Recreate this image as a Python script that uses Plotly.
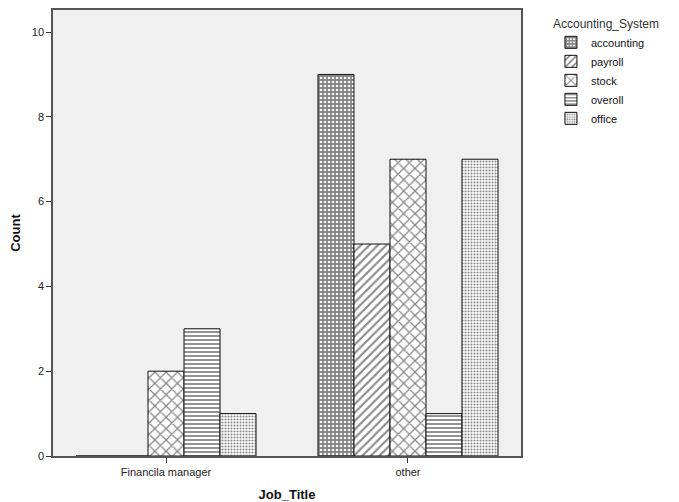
import plotly.graph_objects as go

categories = ["Financila manager", "other"]
series_names = ["accounting", "payroll", "stock", "overoll", "office"]
accounting = [0, 9]
payroll = [0, 5]
stock = [2, 7]
overoll = [3, 1]
office = [1, 7]
values = [accounting, payroll, stock, overoll, office]
y_ticks = [0, 2, 4, 6, 8, 10]

patterns = [
    dict(shape="+", size=4, solidity=0.7),
    dict(shape="/", size=6, solidity=0.35),
    dict(shape="x", size=8, solidity=0.3),
    dict(shape="-", size=4, solidity=0.45),
    dict(shape=".", size=3, solidity=0.4),
]

fig = go.Figure()
for name, vals, pat in zip(series_names, values, patterns):
    fig.add_trace(go.Bar(
        x=categories, y=vals, name=name,
        marker=dict(color="white",
                    line=dict(color="#111111", width=1),
                    pattern=dict(fgcolor="#111111", bgcolor="white", **pat)),
    ))

font_family = "Liberation Sans, Arial, sans-serif"
# page body has an 8px margin, so the figure is sized to the visible area
fig.update_layout(
    width=671, height=494,
    margin=dict(l=45, r=158, t=2, b=46, autoexpand=False),
    paper_bgcolor="white",
    plot_bgcolor="#f0f0f0",
    barmode="group",
    bargap=0.256,
    bargroupgap=0,
    font=dict(family=font_family, size=11, color="#222222"),
    showlegend=True,
    legend=dict(
        x=1.064, xanchor="left", y=0.995, yanchor="top",
        title=dict(text="Accounting_System", font=dict(size=12, color="#333333")),
        font=dict(size=11, color="#111111"),
        tracegroupgap=0, itemwidth=30,
        bgcolor="rgba(0,0,0,0)",
    ),
    xaxis=dict(
        range=[-0.467, 1.467], automargin=False,
        title=dict(text="<b>Job_Title</b>", font=dict(size=13, color="#111111"), standoff=22),
        showgrid=False, zeroline=False,
        showline=True, linecolor="#555555", linewidth=1.5, mirror=True,
        ticks="outside", ticklen=5, tickcolor="#333333",
        tickfont=dict(size=11, color="#222222"),
    ),
    yaxis=dict(
        range=[0, 10.52], automargin=False,
        tickvals=y_ticks,
        title=dict(text="<b>Count</b>", font=dict(size=13, color="#111111"), standoff=12),
        showgrid=False, zeroline=False,
        showline=True, linecolor="#555555", linewidth=1.5, mirror=True,
        ticks="outside", ticklen=5, tickcolor="#333333",
        tickfont=dict(size=11, color="#222222"),
    ),
)

fig.write_html("out.html")
